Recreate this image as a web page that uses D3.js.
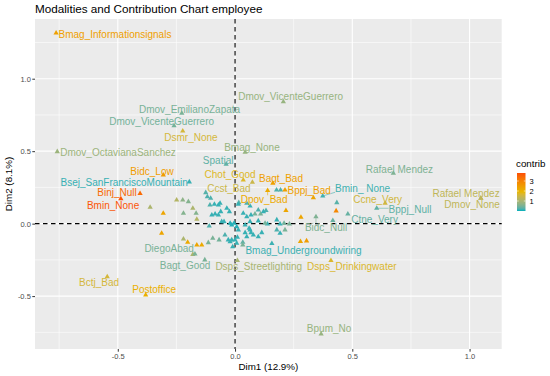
<!DOCTYPE html>
<html><head><meta charset="utf-8">
<script src="https://cdn.jsdelivr.net/npm/d3@7"></script>
<style>body{margin:0;background:#fff}text{font-family:"Liberation Sans",Arial,sans-serif}</style>
</head><body><svg id="c" width="550" height="376"></svg>
<script>
// labelled modalities
const labNames = ["Bmag_Informationsignals","Dmov_EmilianoZapata","Dmov_VicenteGuerrero","Dmov_VicenteGuerrero","Dsmr_None","Dmov_OctavianaSanchez","Bmag_None","Spatial","Bidc_Low","Bsej_SanFranciscoMountain","Binj_Null","Bmin_None","Chot_Good","Ccst_Bad","Bagt_Bad","Dpov_Bad","Bppj_Bad","Bmin_ None","Rafael Mendez","Ccne_Very","Bppj_Null","Ctne_Very","Rafael Mendez","Dmov_None","Bidc_Null","Bmag_Undergroundwiring","Dsps_Streetlighting","Dsps_Drinkingwater","DiegoAbad","Bagt_Good","Bctj_Bad","Postoffice","Bpum_No"];
const labDim1 = [-0.763,-0.227,-0.260,0.206,-0.223,-0.758,0.043,-0.038,-0.306,-0.195,-0.405,-0.487,0.035,0.074,0.161,0.139,0.213,0.374,0.675,0.640,0.604,0.481,1.048,1.048,0.345,0.157,0.010,0.409,-0.171,-0.129,-0.545,-0.381,0.367];
const labDim2 = [1.315,0.761,0.676,0.841,0.639,0.497,0.492,0.410,0.336,0.288,0.208,0.172,0.301,0.286,0.279,0.228,0.232,0.191,0.348,0.141,0.106,0.067,0.175,0.175,0.048,-0.137,-0.255,-0.255,-0.209,-0.250,-0.366,-0.492,-0.761];
const labContrib = [2.4,0.5,0.45,0.8,1.6,0.85,0.8,0.3,2.5,0.1,3.4,3.7,1.75,1.45,2.4,2.2,2.4,0.15,0.55,1.55,0.3,0.35,1.3,1.3,0.55,0.12,1.0,1.7,0.5,0.5,1.6,2.1,0.8];
// where the repelled label text sits (Dim1, Dim2)
const labTextDim1 = [-0.512,-0.194,-0.313,0.237,-0.188,-0.499,0.072,-0.072,-0.354,-0.473,-0.503,-0.520,-0.021,-0.026,0.196,0.124,0.316,0.544,0.701,0.608,0.746,0.595,0.985,1.011,0.388,0.292,0.101,0.498,-0.281,-0.213,-0.580,-0.345,0.401];
const labTextDim2 = [1.308,0.791,0.706,0.874,0.593,0.494,0.527,0.439,0.359,0.286,0.212,0.122,0.341,0.244,0.312,0.168,0.232,0.244,0.377,0.168,0.099,0.030,0.210,0.129,-0.028,-0.186,-0.297,-0.297,-0.170,-0.292,-0.407,-0.457,-0.726];
// unlabelled modalities
const ptDim1 = [-0.362,-0.306,-0.249,-0.223,-0.199,-0.163,-0.180,-0.313,-0.220,-0.202,-0.163,-0.142,-0.220,-0.166,-0.114,-0.095,-0.068,-0.043,-0.014,0.007,-0.110,-0.099,-0.085,-0.071,-0.057,-0.047,-0.014,0.007,-0.125,-0.118,-0.104,-0.088,-0.071,-0.064,-0.035,-0.024,-0.061,-0.107,0.016,0.050,0.099,0.132,0.050,0.064,0.099,0.138,0.178,0.209,0.217,0.281,0.417,0.434,0.431,0.334,0.177,0.194,-0.029,0.014,0.064,0.099,0.178,0.213,0.279,0.305,0.035,0.085,0.109,0.068,0.121,-0.021,-0.004,0.043,0.060,0.128,0.192,0.232,0.043,0.068,0.114,0.192,0.010,0.033,-0.021,0.000,0.050,0.078,-0.010,0.033,0.064,0.014,-0.180];
const ptDim2 = [0.113,0.072,0.163,0.163,0.152,0.030,0.106,-0.066,-0.106,-0.128,-0.147,-0.147,0.072,0.072,-0.131,-0.101,-0.112,-0.078,-0.112,-0.135,-0.016,0.060,0.067,0.060,0.014,0.014,-0.009,-0.021,0.214,0.186,0.175,0.134,0.129,0.141,0.106,0.083,0.083,0.129,0.145,0.141,0.094,0.090,0.048,0.014,0.019,-0.002,0.026,0.003,0.090,0.044,0.021,0.145,0.088,0.179,0.232,0.232,-0.112,-0.043,-0.043,-0.090,-0.043,-0.043,-0.123,-0.119,0.072,0.067,0.067,0.060,0.083,0.003,0.003,-0.009,-0.032,0.003,-0.002,-0.002,-0.062,-0.062,-0.062,-0.066,-0.094,-0.128,-0.124,-0.112,-0.090,-0.078,-0.159,-0.147,0.121,0.134,-0.212];
const ptContrib = [1.05,2.3,1.15,0.7,0.6,1.15,1.05,2.3,1.05,2.2,2.3,2.2,0.6,0.6,0.5,0.5,0.45,0.2,0.1,0.1,0.2,0.1,0.1,0.1,0.1,0.1,0.05,0.05,0.25,0.2,0.2,0.1,0.1,0.1,0.1,0.1,0.1,0.2,0.3,0.2,0.2,0.2,0.1,0.1,0.1,0.1,0.1,0.45,2.3,2.3,0.35,0.25,2.9,2.3,0.2,0.2,0.1,0.1,0.1,0.1,0.2,0.5,2.3,2.5,0.1,0.45,0.5,0.1,0.1,0.05,0.05,0.1,0.1,0.45,0.1,0.5,0.1,0.1,0.1,0.1,0.1,0.3,0.1,0.1,0.1,0.1,0.1,0.5,0.1,0.1,1.05];
const xMajor = [-0.5,0,0.5,1.0], xMinor = [-0.75,-0.25,0.25,0.75];
const yMajor = [-0.5,0,0.5,1.0], yMinor = [-0.75,-0.25,0.25,0.75,1.25];
const legendTicks = [1,2,3];
const contribRange = [0,3.8];

const svg = d3.select("#c");
const L=35,R=501.7,T=19,B=349;
const x = d3.scaleLinear().domain([-0.853,1.137]).range([L,R]);
const y = d3.scaleLinear().domain([-0.865,1.412]).range([B,T]);
const col = d3.scaleLinear().domain([contribRange[0],(contribRange[0]+contribRange[1])/2,contribRange[1]])
  .range(["#00AFBB","#E7B800","#FC4E07"]).interpolate(d3.interpolateLab);

svg.append("rect").attr("x",L).attr("y",T).attr("width",R-L).attr("height",B-T).attr("fill","#EBEBEB");
const g = svg.append("g");
g.selectAll(".vmin").data(xMinor).join("line").attr("x1",d=>x(d)).attr("x2",d=>x(d)).attr("y1",T).attr("y2",B).attr("stroke","#fff").attr("stroke-width",0.55);
g.selectAll(".hmin").data(yMinor).join("line").attr("y1",d=>y(d)).attr("y2",d=>y(d)).attr("x1",L).attr("x2",R).attr("stroke","#fff").attr("stroke-width",0.55);
g.selectAll(".vmaj").data(xMajor).join("line").attr("x1",d=>x(d)).attr("x2",d=>x(d)).attr("y1",T).attr("y2",B).attr("stroke","#fff").attr("stroke-width",1.1);
g.selectAll(".hmaj").data(yMajor).join("line").attr("y1",d=>y(d)).attr("y2",d=>y(d)).attr("x1",L).attr("x2",R).attr("stroke","#fff").attr("stroke-width",1.1);

// reference lines
svg.append("line").attr("x1",L).attr("x2",R).attr("y1",y(0)).attr("y2",y(0)).attr("stroke","#000").attr("stroke-width",1.1).attr("stroke-dasharray","4.5,3.5");
svg.append("line").attr("y1",T).attr("y2",B).attr("x1",x(0)).attr("x2",x(0)).attr("stroke","#000").attr("stroke-width",1.1).attr("stroke-dasharray","4.5,3.5");

// axes
const fmt = d=>d.toFixed(1);
const ax = svg.append("g").attr("transform",`translate(0,${B})`).call(d3.axisBottom(x).tickValues(xMajor).tickFormat(fmt).tickSize(2.7).tickPadding(1.5));
const ay = svg.append("g").attr("transform",`translate(${L},0)`).call(d3.axisLeft(y).tickValues(yMajor).tickFormat(fmt).tickSize(2.7).tickPadding(1.5));
[ax,ay].forEach(a=>{a.select(".domain").remove();a.selectAll("line").attr("stroke","#333");a.selectAll("text").attr("fill","#4D4D4D").style("font-size","7.5px").style("font-family","Liberation Sans, Arial, sans-serif");});

// points
const tri = d3.symbol().type(d3.symbolTriangle).size(12);
const pts = ptDim1.map((d,i)=>({d1:d,d2:ptDim2[i],c:ptContrib[i]}));
const labs = labNames.map((n,i)=>({n,d1:labDim1[i],d2:labDim2[i],c:labContrib[i],t1:labTextDim1[i],t2:labTextDim2[i]}));
const segG = svg.append("g");
svg.append("g").selectAll("path").data(pts.concat(labs)).join("path").attr("d",tri)
  .attr("transform",d=>`translate(${x(d.d1)},${y(d.d2)})`).attr("fill",d=>col(d.c));

// labels
const tg = svg.append("g");
labs.forEach(d=>{
  const t = tg.append("text").attr("x",x(d.t1)).attr("y",y(d.t2)).attr("dy","0.35em").attr("text-anchor","middle")
    .attr("fill",col(d.c)).style("font-size","10px").text(d.n);
  const b = t.node().getBBox();
  const px=x(d.d1), py=y(d.d2);
  const bx0=b.x, bx1=b.x+b.width, by0=b.y+1.5, by1=b.y+b.height-1.5;
  const cx=Math.max(bx0,Math.min(px,bx1)), cy=Math.max(by0,Math.min(py,by1));
  const dist=Math.hypot(px-cx,py-cy);
  if(dist>4){
    segG.append("line").attr("x1",px).attr("y1",py).attr("x2",cx).attr("y2",cy).attr("stroke",col(d.c)).attr("stroke-width",0.6);
  }
});

// titles
svg.append("text").attr("x",L).attr("y",13).style("font-size","11.7px").attr("fill","#000").text("Modalities and Contribution Chart employee");
svg.append("text").attr("x",(L+R)/2).attr("y",370).attr("text-anchor","middle").style("font-size","9.8px").attr("fill","#000").text("Dim1 (12.9%)");
svg.append("text").attr("transform",`translate(12,${(T+B)/2}) rotate(-90)`).attr("text-anchor","middle").style("font-size","9.8px").attr("fill","#000").text("Dim2 (8.1%)");

// legend
const lx=517, ly0=173, ly1=211, lw=8.5;
const ls = d3.scaleLinear().domain(contribRange).range([ly1,ly0]);
const grad = svg.append("defs").append("linearGradient").attr("id","gr").attr("x1","0").attr("y1","1").attr("x2","0").attr("y2","0");
d3.range(0,1.0001,0.05).forEach(f=>grad.append("stop").attr("offset",f).attr("stop-color",col(contribRange[0]+f*(contribRange[1]-contribRange[0]))));
svg.append("text").attr("x",lx-1).attr("y",167).style("font-size","9.8px").attr("fill","#000").text("contrib");
svg.append("rect").attr("x",lx).attr("y",ly0).attr("width",lw).attr("height",ly1-ly0).attr("fill","url(#gr)");
legendTicks.forEach(v=>{
  svg.append("line").attr("x1",lx).attr("x2",lx+1.7).attr("y1",ls(v)).attr("y2",ls(v)).attr("stroke","#fff").attr("stroke-width",0.6);
  svg.append("line").attr("x1",lx+lw-1.7).attr("x2",lx+lw).attr("y1",ls(v)).attr("y2",ls(v)).attr("stroke","#fff").attr("stroke-width",0.6);
  svg.append("text").attr("x",lx+lw+4).attr("y",ls(v)).attr("dy","0.35em").style("font-size","7.5px").attr("fill","#000").text(v);
});
</script></body></html>
